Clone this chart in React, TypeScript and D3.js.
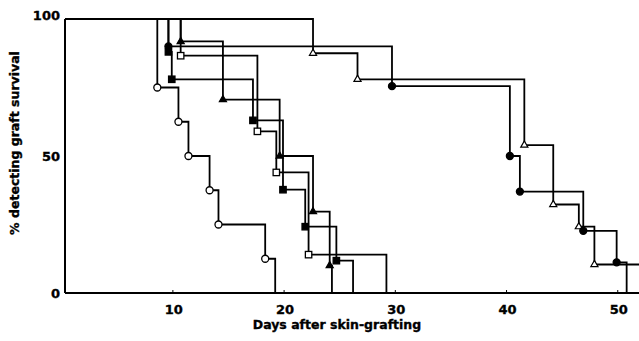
import * as d3 from "d3";

// survival steps: day of each drop, % still detecting afterwards
const openCircleDays = [8.6, 10.5, 11.4, 13.3, 14.1, 18.3, 19.2];
const openCirclePct = [75, 62.5, 50, 37.5, 25, 12.5, 0];

const filledSquareDays = [9.6, 9.9, 17.2, 19.9, 21.9, 24.7, 26.2];
const filledSquarePct = [88, 78, 63, 37.7, 24.2, 11.8, 0];

const filledTriangleDays = [10.7, 14.5, 19.6, 22.6, 24.1, 24.3];
const filledTrianglePct = [91.8, 70.6, 50, 29.7, 10, 0];

const openSquareDays = [10.7, 17.6, 19.3, 22.2, 29.2];
const openSquarePct = [86.6, 59, 44, 14, 0];

const openTriangleDays = [22.6, 26.6, 41.6, 44.2, 46.5, 47.9];
const openTrianglePct = [87.5, 78, 54, 32.3, 24.2, 10.4];

const filledCircleDays = [9.6, 29.7, 40.3, 41.2, 46.9, 49.9, 50.8];
const filledCirclePct = [90, 75.5, 50, 37, 22.7, 11.2, 0];

const xTicks = [10, 20, 30, 40, 50];
const yTicks = [0, 50, 100];

type Marker = "circle" | "square" | "triangle";
type Series = { days: number[]; pct: number[]; marker: Marker; filled: boolean };

const series: Series[] = [
  { days: openCircleDays, pct: openCirclePct, marker: "circle", filled: false },
  { days: filledSquareDays, pct: filledSquarePct, marker: "square", filled: true },
  { days: filledTriangleDays, pct: filledTrianglePct, marker: "triangle", filled: true },
  { days: openSquareDays, pct: openSquarePct, marker: "square", filled: false },
  { days: openTriangleDays, pct: openTrianglePct, marker: "triangle", filled: false },
  { days: filledCircleDays, pct: filledCirclePct, marker: "circle", filled: true },
];

const width = 639;
const height = 341;
const font = "'DejaVu Sans', sans-serif";
const textStyle = { fontFamily: font, fontWeight: "bold" as const, stroke: "#000", strokeWidth: 0.35 };

const App = () => {
  const x = d3.scaleLinear().domain([0.3, 52]).range([65, 640]);
  const y = d3.scaleLinear().domain([0, 100]).range([293, 19]);

  const line = d3
    .line<[number, number]>()
    .x((d) => x(d[0]))
    .y((d) => y(d[1]))
    .curve(d3.curveStepAfter);

  const drawMarker = (s: Series, d: number, p: number, i: number) => {
    const cx = x(d);
    const cy = y(p);
    const fill = s.filled ? "#000" : "#fff";
    if (s.marker === "circle")
      return <circle key={i} cx={cx} cy={cy} r={3.5} fill={fill} stroke="#000" strokeWidth={1.3} />;
    if (s.marker === "square")
      return <rect key={i} x={cx - 3.2} y={cy - 3.2} width={6.4} height={6.4} fill={fill} stroke="#000" strokeWidth={1.3} />;
    const tri = d3.symbol().type(d3.symbolTriangle).size(22)();
    return <path key={i} d={tri!} transform={`translate(${cx},${cy})`} fill={fill} stroke="#000" strokeWidth={1.2} />;
  };

  return (
    <svg width={width} height={height} style={{ position: "absolute", left: 0, top: 0, background: "#fff" }}>
      <g fill="none" stroke="#000" strokeWidth={1.8}>
        {series.map((s, k) => {
          const pts: [number, number][] = [[0.3, 100], ...s.days.map((d, i) => [d, s.pct[i]] as [number, number])];
          const last = s.pct[s.pct.length - 1];
          if (last > 0) pts.push([52, last]);
          return <path key={k} d={line(pts)!} />;
        })}
      </g>
      {series.map((s, k) => (
        <g key={k}>{s.days.map((d, i) => (s.pct[i] > 0 ? drawMarker(s, d, s.pct[i], i) : null))}</g>
      ))}
      {/* axes */}
      <line x1={x(0.3)} x2={x(0.3)} y1={y(100)} y2={y(0)} stroke="#000" strokeWidth={2} />
      <line x1={x(0.3)} x2={width} y1={y(0)} y2={y(0)} stroke="#000" strokeWidth={2} />
      {xTicks.map((t) => (
        <g key={t}>
          <line x1={x(t)} x2={x(t)} y1={y(0)} y2={y(0) - 3} stroke="#000" strokeWidth={1} />
          <text x={x(t) + 1} y={314} textAnchor="middle" fontSize={13} style={textStyle}>
            {t}
          </text>
        </g>
      ))}
      {yTicks.map((t) => (
        <text key={t} x={60} y={y(t) + (t === 100 ? -3 : 1)} textAnchor="end" dominantBaseline="middle" fontSize={13} style={textStyle}>
          {t}
        </text>
      ))}
      <text x={337} y={329} textAnchor="middle" fontSize={12.5} style={textStyle}>
        Days after skin-grafting
      </text>
      <text transform={`translate(19,143) rotate(-90)`} textAnchor="middle" fontSize={12.5} style={textStyle}>
        % detecting graft survival
      </text>
    </svg>
  );
};

export default App;
